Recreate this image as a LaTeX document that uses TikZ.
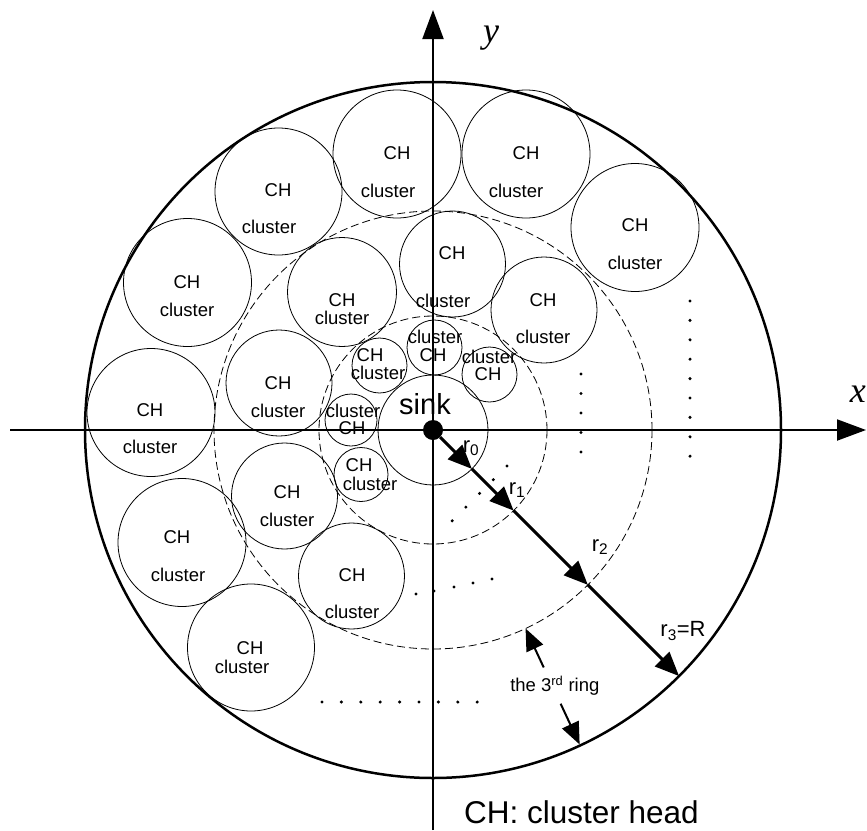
\documentclass[tikz,border=0pt]{standalone}
\usepackage{fontspec}
\setmainfont{Liberation Sans}
\newfontfamily\axisfont{Liberation Serif}
\usetikzlibrary{arrows.meta, calc}

\begin{document}
\begin{tikzpicture}[
    x=1pt, y=-1pt,
    every node/.style={inner sep=0pt},
    clus/.style={circle, draw, line width=0.8pt},
    ringline/.style={circle, draw, line width=0.8pt, dash pattern=on 8pt off 4pt},
    lbl/.style={font=\fontsize{18.5}{20}\selectfont},
    rlbl/.style={font=\fontsize{22}{24}\selectfont},
    axlbl/.style={font=\fontsize{36}{38}\selectfont\axisfont\itshape},
    axisline/.style={line width=2pt, -{Triangle[length=29pt,width=21pt]}},
    radline/.style={line width=3pt, -{Triangle[length=24pt,width=20pt]}},
    ringarrow/.style={line width=2pt, -{Triangle[length=22pt,width=18pt]}}
  ]
  \useasboundingbox (0,0) rectangle (867,830);

  % field, rings and sink
  \node[circle, draw, line width=2.5pt, minimum size=696pt] (field) at (433,430) {};
  \node[ringline, minimum size=228pt] (ring1) at (433,430) {};
  \node[ringline, minimum size=438pt] (ring2) at (433,430) {};
  \node[clus, minimum size=110pt] (sinkarea) at (433,430) {};

  % clusters: name / centre / radius / CH position / cluster position
  \foreach \n/\x/\y/\r/\a/\b/\c/\d in {
      c1/278.5/191.5/63.5/278/190/269/227,
      c2/397/154/64/397/153/388/191,
      c3/526/154/64/526/153/516/191,
      c4/635/227.5/64/635/225/635/263,
      c5/187.5/282.5/64/187/282/187/310,
      c6/342/292/54.5/342/300/342/318,
      c7/452.5/264/53/452/253/443/301,
      c8/544/310/53/543/300/543/337,
      c9/151/412.5/64/150/410/150/447,
      c10/279/383/53/278/383/278/411,
      c11/284.5/496/53/287/492/287/520,
      c12/182/542.5/64/177/537/178/575,
      c13/351.5/576/53/352/575/352/612,
      c14/251/647.5/63.5/250/648/242/667,
      c15/379.5/365.5/27.5/370/355/378/373,
      c16/351/420/26/352/428/353/411,
      c17/361/474.5/27/359/465/370/484,
      c18/434.5/347.5/27.5/433/355/435/337,
      c19/489.5/374.5/27.5/488/374/489/357}{
    \node[clus, minimum size={2*\r pt}] (\n) at (\x,\y) {};
    \node[lbl] (\n-ch) at (\a,\b) {CH};
    \node[lbl] (\n-cl) at (\c,\d) {cluster};
  }

  % axes
  \coordinate (xl) at (10,430);
  \coordinate (xr) at (866,430);
  \coordinate (yb) at (433,830);
  \coordinate (yt) at (433,10);
  \draw[axisline] (xl) -- (xr);
  \draw[axisline] (yb) -- (yt);
  \node[axlbl, anchor=east] (xlbl) at (866,394) {x};
  \node[axlbl] (ylbl) at (491,38) {y};

  \node[circle, fill, minimum size=20pt] (sink) at (433,430) {};
  \node[font=\fontsize{29}{30}\selectfont] (sinklbl) at (425,404) {sink};

  % radii
  \coordinate (p0) at ($(sink.center)+(45:55)$);
  \coordinate (p1) at ($(sink.center)+(45:114)$);
  \coordinate (p2) at ($(sink.center)+(45:219)$);
  \coordinate (p3) at ($(sink.center)+(45:348)$);
  \draw[radline] (sink) -- (p0);
  \draw[radline] (p0) -- (p1);
  \draw[radline] (p1) -- (p2);
  \draw[radline] (p2) -- (p3);
  \node[rlbl] (r0) at (471,448) {r\textsubscript{0}};
  \node[rlbl] (r1) at (517,490) {r\textsubscript{1}};
  \node[rlbl] (r2) at (600,547) {r\textsubscript{2}};
  \node[rlbl] (r3) at (683,631) {r\textsubscript{3}=R};

  % the 3rd ring
  \coordinate (a1) at ($(sink.center)+(65:262)$);
  \coordinate (a1t) at ($(sink.center)+(65:219)$);
  \coordinate (a2) at ($(sink.center)+(65:302)$);
  \coordinate (a2t) at ($(sink.center)+(65:347)$);
  \draw[ringarrow] (a1) -- (a1t);
  \draw[ringarrow] (a2) -- (a2t);
  \node[lbl] (ringlbl) at ($(sink.center)+(64.5:283)$) {the 3\textsuperscript{rd} ring};

  % dots
  \foreach \k in {0,...,4} \fill (581,{374+19.5*\k}) circle (1.7pt);
  \foreach \k in {0,...,8} \fill (690,{301+19.4*\k}) circle (1.7pt);
  \foreach \k in {0,...,4} \fill ({507-13.7*\k},{466+13.7*\k}) circle (1.7pt);
  \foreach \x/\y in {416/594,434/591,454/587,473/583,492/579} \fill (\x,\y) circle (1.7pt);
  \foreach \k in {0,...,8} \fill ({322+19.4*\k},702) circle (1.7pt);

  \node[font=\fontsize{31.5}{33}\selectfont, anchor=west] (legend) at (464,812) {CH: cluster head};
\end{tikzpicture}
\end{document}
